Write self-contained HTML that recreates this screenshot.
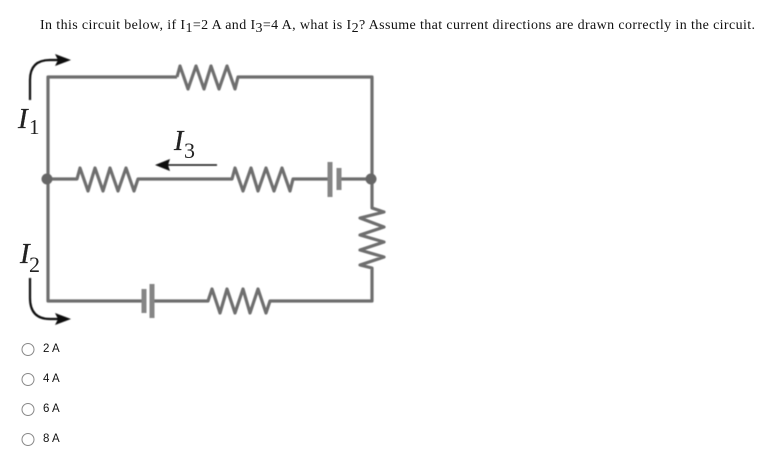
<!DOCTYPE html>
<html>
<head>
<meta charset="utf-8">
<style>
html,body{margin:0;padding:0;background:#fff;width:777px;height:464px;overflow:hidden}
svg{display:block}
</style>
</head>
<body>
<svg width="777" height="464" viewBox="0 0 777 464" xmlns="http://www.w3.org/2000/svg">
<defs><filter id="b" x="-5%" y="-5%" width="110%" height="110%"><feGaussianBlur stdDeviation="0.45"/></filter></defs>

<text x="40" y="29" font-family="'Liberation Serif',serif" font-size="14" fill="#111" textLength="715" lengthAdjust="spacing">In this circuit below, if I<tspan dy="3">1</tspan><tspan dy="-3">=2 A and I</tspan><tspan dy="3">3</tspan><tspan dy="-3">=4 A, what is I</tspan><tspan dy="3">2</tspan><tspan dy="-3">?  Assume that current directions are drawn correctly in the circuit.</tspan></text>

<g filter="url(#b)" fill="none" stroke="#6e6e6e" stroke-width="3.2" stroke-linejoin="round">
  <path d="M177 77H48V301H144M152 301H208L212 289L220 313L227 289L235 313L243 289L250 313L258 289L266 313L270 301H372V268L360 265L384 257L360 250L384 242L360 235L384 227L360 218L384 212L372 208V77H238L235 89L227 66L219 89L211 66L204 89L196 66L188 89L180 66L177 77"/>
  <path d="M48 179H77L80 168L88 191L95 168L103 191L110 168L118 191L126 168L134 191L138 179H232L235 168L243 191L251 168L258 191L266 168L274 191L282 168L290 191L293 179H330M339 179H372"/>
  <path d="M330 162V197M339 168V190M144 289V313M152 284V318" stroke-width="5" stroke="#858585"/>
  <circle cx="47" cy="179" r="5.500" fill="#666" stroke="none"/>
  <circle cx="371" cy="179" r="5.500" fill="#666" stroke="none"/>
</g>

<g filter="url(#b)" fill="none" stroke="#111" stroke-width="2.2">
  <path d="M30 100V80Q30 60 50 60H62"/>
  <path d="M30 278V298Q30 319 50 319H62"/>
  <path d="M217 165H165" stroke-width="1.6"/>
  <path d="M71 60L55 54L58 60L55 66Z" fill="#111" stroke="none"/>
  <path d="M71 319L55 313L58 319L55 325Z" fill="#111" stroke="none"/>
  <path d="M155 165L170 159L168 165L170 171Z" fill="#111" stroke="none"/>
</g>

<g font-family="'Liberation Serif',serif" fill="#222">
  <text x="18" y="128" font-size="29" font-style="italic" stroke="#222" stroke-width="0.3">I</text>
  <text x="29" y="134" font-size="21">1</text>
  <text x="174" y="150" font-size="28" font-style="italic" stroke="#222" stroke-width="0.3">I</text>
  <text x="184" y="158" font-size="22">3</text>
  <text x="20" y="263" font-size="29" font-style="italic" stroke="#222" stroke-width="0.3">I</text>
  <text x="29" y="272" font-size="22">2</text>
</g>

<g fill="#fff" stroke="#888" stroke-width="1">
  <circle cx="28" cy="349.500" r="6"/>
  <circle cx="28" cy="379.500" r="6"/>
  <circle cx="28" cy="409.500" r="6"/>
  <circle cx="28" cy="439.500" r="6"/>
</g>
<g font-family="'Liberation Sans',sans-serif" font-size="11.500" fill="#111">
  <text x="43" y="352">2 A</text>
  <text x="43" y="382">4 A</text>
  <text x="43" y="412">6 A</text>
  <text x="43" y="442">8 A</text>
</g>
</svg>
</body>
</html>
